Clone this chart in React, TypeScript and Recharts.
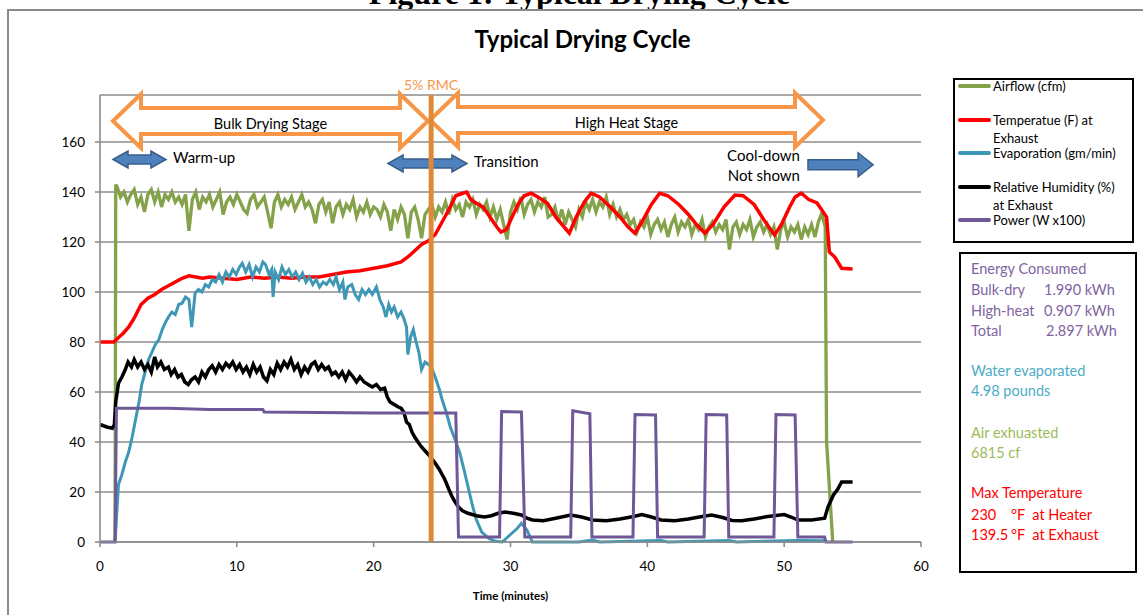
import React from 'react'
import { LineChart, Line, XAxis, YAxis, CartesianGrid, ReferenceLine, ReferenceArea, Legend } from 'recharts'

// [minutes, value]
const airflow: [number, number][] = [
  [1.1, 0], [1.15, 143], [1.25, 142], [1.5, 138], [1.75, 140], [2, 136], [2.25, 139], [2.5, 141], [2.75, 135], [3, 138],
  [3.25, 132], [3.5, 139], [3.75, 141], [4, 136], [4.25, 140], [4.5, 134], [4.75, 139], [5, 137],
  [5.25, 140], [5.5, 136], [5.75, 138], [6, 135], [6.25, 139], [6.5, 124.5], [6.75, 137], [7, 140], [7.25, 133], [7.5, 138],
  [7.75, 136], [8, 139], [8.25, 134], [8.5, 137], [8.75, 140], [9, 131], [9.25, 136], [9.5, 138], [9.75, 135], [10, 139],
  [10.25, 136], [10.5, 133], [10.75, 131.5], [11, 137], [11.25, 139], [11.5, 134], [11.75, 136], [12, 138], [12.25, 132],
  [12.5, 125.5], [12.75, 136], [13, 139], [13.25, 134], [13.5, 137], [13.75, 135], [14, 138], [14.25, 133], [14.5, 136],
  [14.75, 139], [15, 134], [15.25, 136], [15.5, 133], [15.75, 127.5], [16, 135], [16.25, 137], [16.5, 132], [16.75, 136],
  [17, 127.5], [17.25, 134], [17.5, 136], [17.75, 131], [18, 135], [18.25, 133], [18.5, 137], [18.75, 130], [19, 134],
  [19.25, 132], [19.5, 136], [19.75, 131], [20, 134], [20.25, 133], [20.5, 130], [20.75, 135], [21, 132], [21.25, 124.5],
  [21.5, 133], [21.75, 129], [22, 134], [22.25, 131], [22.5, 121.5], [22.75, 132], [23, 134], [23.25, 129], [23.5, 121.5],
  [23.75, 131], [24, 133], [24.25, 135], [24.5, 130], [24.75, 134], [25, 132], [25.25, 136], [25.5, 131], [25.75, 137],
  [26, 133], [26.25, 135], [26.5, 130], [26.75, 136], [27, 134], [27.25, 137], [27.5, 131], [27.75, 135], [28, 133],
  [28.25, 136], [28.5, 130], [28.75, 134], [29, 129], [29.25, 133], [29.5, 127], [29.75, 121], [30, 132], [30.25, 136],
  [30.5, 133], [30.75, 138], [31, 131], [31.25, 135], [31.5, 137], [31.75, 132], [32, 136], [32.25, 134], [32.5, 138],
  [32.75, 130], [33, 131], [33.25, 134], [33.5, 128], [33.75, 133], [34, 127], [34.25, 132], [34.5, 129], [34.75, 126],
  [35, 133], [35.25, 130], [35.5, 136], [35.75, 133], [36, 137], [36.25, 132], [36.5, 136], [36.75, 134], [37, 138],
  [37.25, 131], [37.5, 135], [37.75, 130], [38, 133], [38.25, 129], [38.5, 131], [38.75, 127], [39, 129], [39.25, 124],
  [39.5, 128], [39.75, 126], [40, 130], [40.25, 123], [40.5, 127], [40.75, 129], [41, 125], [41.25, 128], [41.5, 122],
  [41.75, 127], [42, 130], [42.25, 124], [42.5, 128], [42.75, 126], [43, 129], [43.25, 123], [43.5, 127], [43.75, 125],
  [44, 129], [44.25, 122], [44.5, 126], [44.75, 128], [45, 124], [45.25, 127], [45.5, 125], [45.75, 129], [46, 117],
  [46.25, 126], [46.5, 128], [46.75, 123], [47, 127], [47.25, 125], [47.5, 129], [47.75, 122], [48, 126], [48.25, 128],
  [48.5, 124], [48.75, 127], [49, 123], [49.25, 126], [49.5, 117], [49.75, 125], [50, 128], [50.25, 122], [50.5, 126],
  [50.75, 124], [51, 127], [51.25, 121], [51.5, 126], [51.75, 123], [52, 127], [52.25, 122], [52.5, 128], [52.75, 131.5],
  [53, 126], [53.1, 40], [53.55, 0],
]

const temperature: [number, number][] = [
  [0, 80], [0.5, 80], [1.0, 80], [1.3, 81.5], [1.7, 83.5], [2.1, 86], [2.5, 89.5], [3.0, 95], [3.5, 97.5], [4.0, 99],
  [4.5, 101], [5.0, 102.5], [5.5, 104], [6.0, 105.5], [6.5, 106.5], [7.0, 106], [7.5, 105.5], [8, 106], [9, 105.5],
  [10, 105], [11, 106], [12, 105.5], [13, 106], [14, 105.5], [15, 106], [16, 106], [17, 107], [18, 108], [19, 108.5],
  [20, 109.5], [21, 110.5], [22, 112], [22.5, 114], [23, 116.5], [23.5, 119], [24, 120.5], [24.5, 123], [25, 128],
  [25.5, 133], [26, 138.5], [26.5, 139.5], [26.8, 140], [27.1, 137], [27.5, 135.5], [28, 134], [28.5, 130], [29, 126],
  [29.3, 124], [29.7, 125], [30.2, 131], [30.6, 135.5], [31, 138.5], [31.5, 139.5], [32, 138], [32.7, 135.5], [33.3, 130],
  [34, 125.5], [34.3, 123.5], [34.8, 130], [35.4, 136], [35.9, 139.5], [36.5, 138], [37.3, 134], [38, 130], [38.6, 126],
  [39.1, 123.5], [39.6, 128], [40.3, 135], [40.9, 139.5], [41.5, 138.5], [42.3, 135], [43, 131], [43.6, 127], [44.2, 123.5],
  [44.8, 127], [45.6, 134], [46.4, 138.8], [47, 138.5], [47.8, 135], [48.5, 129], [49.3, 122.8], [49.8, 127], [50.4, 134],
  [50.8, 138], [51.25, 139.5], [51.8, 137], [52.4, 135.6], [53.1, 130], [53.3, 116], [53.7, 114], [54.2, 109.5], [55, 109.2],
]

const evaporation: [number, number][] = [
  [1.1, 0], [1.2, 9], [1.35, 23], [1.6, 27], [1.85, 32], [2.1, 36], [2.35, 42], [2.6, 49], [2.85, 56], [3.05, 63],
  [3.3, 68], [3.55, 73], [3.8, 76], [4.05, 79], [4.3, 81], [4.55, 85], [4.8, 88], [5.0, 90], [5.25, 92], [5.5, 91],
  [5.75, 95], [6.0, 95.5], [6.25, 98], [6.5, 97], [6.7, 86], [6.95, 99.5], [7.2, 101], [7.45, 100], [7.7, 103],
  [7.95, 102], [8.2, 105], [8.45, 104], [8.7, 107], [8.95, 104], [9.2, 108], [9.45, 106], [9.7, 109], [9.95, 107],
  [10.2, 110], [10.4, 111.5], [10.65, 108], [10.9, 111], [11.15, 106], [11.4, 110], [11.65, 108], [11.9, 112], [12.1, 111],
  [12.35, 107], [12.55, 109], [12.65, 98], [12.8, 108], [13.05, 105], [13.3, 110], [13.55, 107], [13.8, 109], [14.05, 106],
  [14.3, 108], [14.55, 105], [14.8, 107.5], [15.05, 104], [15.3, 106], [15.55, 103], [15.8, 105], [16.05, 102], [16.3, 104],
  [16.55, 103], [16.8, 105], [17.05, 103], [17.25, 106], [17.5, 101], [17.75, 104], [17.9, 97], [18.1, 102], [18.4, 103],
  [18.65, 99], [18.9, 97], [19.15, 101], [19.4, 99], [19.65, 101], [19.9, 99], [20.2, 102], [20.45, 97], [20.7, 94],
  [20.9, 90], [21.1, 95], [21.3, 92], [21.5, 94], [21.75, 90], [22.0, 92], [22.2, 89.5], [22.4, 86], [22.5, 75],
  [22.7, 82], [22.9, 85], [23.1, 80], [23.3, 76], [23.5, 69], [23.75, 72], [24.0, 71], [24.2, 70], [24.5, 66], [24.8, 61],
  [25.0, 57], [25.3, 52], [25.6, 46], [25.95, 41], [26.3, 35.5], [26.6, 29], [26.9, 22], [27.2, 15], [27.5, 9], [27.9, 4],
  [28.4, 1.5], [28.9, 0.3], [29.4, 0], [29.8, 2], [30.1, 3.5], [30.5, 5.5], [30.8, 7.5], [31.2, 4.8], [31.6, 0], [35, 0],
  [36, 0.8], [36.5, 0], [41, 0.6], [41.5, 0], [46, 0.6], [46.5, 0], [51, 0.6], [53, 0.5],
]

const humidity: [number, number][] = [
  [0, 47], [0.5, 46], [0.9, 45.5], [1.05, 47], [1.15, 56], [1.35, 63.5], [1.6, 66], [1.85, 69], [2.05, 72], [2.3, 70],
  [2.5, 73], [2.75, 70], [3.0, 72], [3.25, 69], [3.5, 71], [3.75, 68], [4.0, 74], [4.2, 70], [4.45, 72], [4.7, 69],
  [5.0, 70], [5.2, 67], [5.45, 69], [5.7, 66], [5.95, 67], [6.2, 64], [6.45, 63], [6.7, 65], [6.95, 66], [7.2, 64],
  [7.45, 68], [7.7, 66], [7.95, 69], [8.2, 70.5], [8.45, 68], [8.7, 71], [8.95, 69], [9.2, 71.5], [9.45, 70], [9.7, 72],
  [9.95, 69], [10.2, 71], [10.45, 68], [10.7, 70], [10.95, 67], [11.2, 71], [11.45, 68], [11.7, 70], [11.95, 66],
  [12.2, 64.5], [12.45, 69], [12.7, 67], [12.95, 71.5], [13.2, 69], [13.45, 72], [13.7, 70], [13.95, 73], [14.2, 69],
  [14.45, 71], [14.7, 67], [14.95, 70], [15.2, 68], [15.45, 71], [15.7, 72], [15.95, 69], [16.2, 71], [16.45, 69],
  [16.7, 70], [16.95, 67], [17.2, 68], [17.45, 66], [17.7, 68], [17.95, 65], [18.2, 68], [18.5, 66], [18.75, 64], [19.0, 66],
  [19.3, 64], [19.6, 63], [19.9, 62], [20.2, 63], [20.5, 61], [20.8, 61.5], [21.0, 58], [21.2, 56], [21.5, 55], [21.8, 54],
  [22.0, 53.5], [22.2, 52], [22.4, 48], [22.6, 47], [22.8, 44], [23.0, 42], [23.3, 39.5], [23.5, 38], [23.7, 36.8],
  [24.0, 35], [24.3, 33], [24.5, 31.5], [24.8, 29], [25.0, 27], [25.2, 25], [25.5, 21], [25.7, 18.5], [25.9, 16.5],
  [26.2, 14], [26.5, 12.5], [26.9, 11.5], [27.5, 10.5], [28.1, 10], [28.6, 10.5], [29.1, 11.5], [29.6, 12], [30.2, 11.5],
  [30.8, 10.8], [31.2, 9.5], [31.6, 8.8], [32.4, 8.5], [33.3, 9.5], [34.4, 10.8], [35.2, 10], [36.0, 8.8], [37.0, 8.5],
  [38.0, 9.2], [39.0, 10.2], [39.6, 11], [40.3, 10], [41.0, 8.8], [42.0, 8.5], [43.0, 9.2], [44.0, 10.2], [44.7, 10.8],
  [45.5, 9.8], [46.2, 8.6], [46.9, 8.5], [47.8, 9.2], [48.8, 10.2], [50.0, 11], [50.5, 10], [51.0, 8.8], [52.0, 8.8],
  [52.96, 9.5], [53.2, 14], [53.6, 18.8], [53.9, 21], [54.2, 24], [55, 24],
]

const power: [number, number][] = [
  [0, 0], [1.1, 0], [1.2, 53.5], [5, 53.5], [8, 53], [11.9, 53], [12, 52], [20, 51.6], [26.0, 51.6], [26.2, 2],
  [29.2, 2], [29.35, 52.2], [30.8, 52], [31.05, 2], [34.4, 2], [34.55, 52.5], [35.8, 51.3], [35.95, 2], [38.95, 2],
  [39.1, 51], [40.6, 50.8], [40.75, 2], [44.15, 2], [44.3, 51], [45.8, 50.8], [45.95, 2], [49.25, 2], [49.4, 51],
  [50.8, 50.8], [51.0, 2], [52.95, 2], [53.05, 0], [55, 0],
]

const seriesNames = [
  'Airflow (cfm)',
  'Temperatue (F) at\nExhaust',
  'Evaporation (gm/min)',
  'Relative Humidity (%)\nat Exhaust',
  'Power (W x100)',
]

const xTicks = [0, 10, 20, 30, 40, 50, 60]
const yTicks = [0, 20, 40, 60, 80, 100, 120, 140, 160]

const font = 'Lato, "Open Sans", sans-serif'
const toPoints = (rows: [number, number][]) => rows.map(([t, v]) => ({ t, v }))

const OrangeArrow = (props: any) => {
  const { x, y, width, height, text } = props
  const cy = y + height / 2
  const head = 28
  const bh = height * 0.24
  const r = x + width
  const d = `M${x},${cy} L${x + head},${y} L${x + head},${cy - bh} L${r - head},${cy - bh} L${r - head},${y} L${r},${cy} L${r - head},${y + height} L${r - head},${cy + bh} L${x + head},${cy + bh} L${x + head},${y + height} Z`
  return (
    <g>
      <path d={d} fill="#fff" stroke="#F79646" strokeWidth={4} />
      <text x={x + width / 2} y={cy + 4} textAnchor="middle" dominantBaseline="middle" fontFamily={font} fontSize={14.5} fill="#000">{text}</text>
    </g>
  )
}

const BlueArrow = (props: any) => {
  const { x, y, width, height, text, textSide, double } = props
  const cy = y + height / 2
  const head = 15
  const bh = height * (double ? 0.26 : 0.21)
  const r = x + width
  const d = double
    ? `M${x},${cy} L${x + head},${y} L${x + head},${cy - bh} L${r - head},${cy - bh} L${r - head},${y} L${r},${cy} L${r - head},${y + height} L${r - head},${cy + bh} L${x + head},${cy + bh} L${x + head},${y + height} Z`
    : `M${x},${cy - bh} L${r - head},${cy - bh} L${r - head},${y} L${r},${cy} L${r - head},${y + height} L${r - head},${cy + bh} L${x},${cy + bh} Z`
  return (
    <g>
      <path d={d} fill="#4F81BD" stroke="#385D8A" strokeWidth={1.5} />
      {textSide === 'right' && (
        <text x={r + 7} y={cy} dominantBaseline="middle" fontFamily={font} fontSize={15} fill="#000">{text}</text>
      )}
      {textSide === 'left' && (
        <text x={x - 8} y={cy} textAnchor="end" fontFamily={font} fontSize={15} fill="#000">
          <tspan x={x - 8} dy="-4">{text[0]}</tspan>
          <tspan x={x - 8} dy="20">{text[1]}</tspan>
        </text>
      )}
    </g>
  )
}

const SeriesLegend = ({ payload }: any) => (
  <div style={{ width: 177, height: 161, border: '2px solid #000', background: '#fff', position: 'relative', fontFamily: font, fontSize: 13 }}>
    {(payload || []).map((entry: any, i: number) => (
      <div key={i} style={{ position: 'absolute', left: 3, top: -3 + i * 33.5, display: 'flex', alignItems: 'flex-start' }}>
        <div style={{ width: 33, height: 4, background: entry.color, marginTop: 7, borderRadius: 2 }} />
        <div style={{ marginLeft: 2, lineHeight: '18px', whiteSpace: 'pre-line', color: '#000' }}>{entry.value}</div>
      </div>
    ))}
  </div>
)

const summaryLines = [
  { top: 15, color: '#8064A2', cells: [['Energy Consumed', 0]] },
  { top: 36, color: '#8064A2', cells: [['Bulk-dry', 0], ['1.990 kWh', 73]] },
  { top: 57, color: '#8064A2', cells: [['High-heat', 0], ['0.907 kWh', 73]] },
  { top: 77, color: '#8064A2', cells: [['Total', 0], ['2.897 kWh', 75]] },
  { top: 117, color: '#4BACC6', cells: [['Water evaporated', 0]] },
  { top: 137, color: '#4BACC6', cells: [['4.98 pounds', 0]] },
  { top: 179, color: '#9BBB59', cells: [['Air exhuasted', 0]] },
  { top: 199, color: '#9BBB59', cells: [['6815 cf', 0]] },
  { top: 239, color: '#FF0000', cells: [['Max Temperature', 0]] },
  { top: 261, color: '#FF0000', cells: [['230', 0], ['°F  at Heater', 40]] },
  { top: 281, color: '#FF0000', cells: [['139.5', 0], ['°F  at Exhaust', 40]] },
]

export default function App() {
  return (
    <div style={{ position: 'absolute', left: 0, top: 0, width: 1143, height: 615, overflow: 'hidden', background: '#fff' }}>
      <div style={{ position: 'absolute', left: 0, width: 1143, top: -23, textAlign: 'center', fontFamily: '"Liberation Serif", serif', fontWeight: 700, fontSize: 32, lineHeight: '32px', paddingLeft: 16, boxSizing: 'border-box', whiteSpace: 'nowrap' }}>
        Figure 1: Typical Drying Cycle
      </div>
      <div style={{ position: 'absolute', left: 7, top: 9, width: 1160, height: 640, border: '2px solid #8A8A8A' }} />
      <div style={{ position: 'absolute', left: 0, width: 1143, top: 26, textAlign: 'center', fontFamily: font, fontWeight: 700, fontSize: 24, lineHeight: '26px', paddingLeft: 22, boxSizing: 'border-box' }}>
        Typical Drying Cycle
      </div>

      <div style={{ position: 'absolute', left: 0, top: 0 }}>
        <LineChart width={1143} height={615} margin={{ top: 95, right: 222, bottom: 13, left: 40 }}>
          <CartesianGrid horizontal vertical={false} stroke="#8C8C8C" strokeWidth={1.6} />
          <XAxis
            type="number"
            dataKey="t"
            domain={[0, 60]}
            ticks={xTicks}
            height={60}
            tickSize={5}
            tickMargin={14}
            axisLine={{ stroke: '#8C8C8C', strokeWidth: 1.6 }}
            tickLine={{ stroke: '#8C8C8C', strokeWidth: 1.6 }}
            tick={{ fill: '#000', fontSize: 13.5, fontFamily: font }}
            label={{ value: 'Time (minutes)', position: 'insideBottom', offset: 2, fill: '#000', fontSize: 11.5, fontWeight: 700, fontFamily: font }}
          />
          <YAxis
            type="number"
            domain={[0, 178.8]}
            ticks={yTicks}
            width={60}
            tickSize={5}
            tickMargin={10}
            axisLine={{ stroke: '#8C8C8C', strokeWidth: 1.6 }}
            tickLine={{ stroke: '#8C8C8C', strokeWidth: 1.6 }}
            tick={{ fill: '#000', fontSize: 13.5, fontFamily: font }}
          />
          <Legend
            layout="horizontal"
            align="center"
            verticalAlign="middle"
            itemSorter={(item: any) => seriesNames.indexOf(item.value)}
            wrapperStyle={{ left: 953, top: 78, width: 181, height: 165 }}
            content={<SeriesLegend />}
          />

          <ReferenceArea x1={0.95} x2={23.97} y1={157.6} y2={179.2} ifOverflow="visible" shape={<OrangeArrow text="Bulk Drying Stage" />} />
          <ReferenceArea x1={24.12} x2={52.84} y1={158} y2={179.6} ifOverflow="visible" shape={<OrangeArrow text="High Heat Stage" />} />
          <ReferenceArea x1={0.95} x2={4.82} y1={149.6} y2={156.4} ifOverflow="visible" shape={<BlueArrow double text="Warm-up" textSide="right" />} />
          <ReferenceArea x1={21.05} x2={26.82} y1={148} y2={154.8} ifOverflow="visible" shape={<BlueArrow double text="Transition" textSide="right" />} />
          <ReferenceArea x1={51.74} x2={56.5} y1={146.1} y2={155.7} ifOverflow="visible" shape={<BlueArrow text={['Cool-down', 'Not shown']} textSide="left" />} />

          <Line data={toPoints(airflow)} dataKey="v" name={seriesNames[0]} type="linear" stroke="#84A24A" strokeWidth={3.3} dot={false} isAnimationActive={false} />
          <Line data={toPoints(temperature)} dataKey="v" name={seriesNames[1]} type="linear" stroke="#FF0000" strokeWidth={3.5} dot={false} isAnimationActive={false} />
          <Line data={toPoints(evaporation)} dataKey="v" name={seriesNames[2]} type="linear" stroke="#3E98B5" strokeWidth={3} dot={false} isAnimationActive={false} />
          <Line data={toPoints(humidity)} dataKey="v" name={seriesNames[3]} type="linear" stroke="#000000" strokeWidth={3.5} dot={false} isAnimationActive={false} />
          <Line data={toPoints(power)} dataKey="v" name={seriesNames[4]} type="linear" stroke="#6E5898" strokeWidth={3} dot={false} isAnimationActive={false} />

          <ReferenceLine
            x={24.2}
            stroke="#E0883A"
            strokeWidth={5}
            label={{ value: '5% RMC', position: 'top', offset: 5, fill: '#F79646', fontSize: 14, fontFamily: font }}
          />
        </LineChart>
      </div>

      <div style={{ position: 'absolute', left: 959, top: 252, width: 174, height: 317, border: '2px solid #000', background: '#fff', fontFamily: font, fontSize: 14.5 }}>
        {summaryLines.map((line, i) => (
          <div key={i} style={{ position: 'absolute', left: 10, top: line.top - 10, height: 20, lineHeight: '20px', color: line.color, width: 160 }}>
            {line.cells.map(([txt, left], j) => (
              <span key={j} style={{ position: 'absolute', left: left as number, whiteSpace: 'pre' }}>{txt}</span>
            ))}
          </div>
        ))}
      </div>
    </div>
  )
}
